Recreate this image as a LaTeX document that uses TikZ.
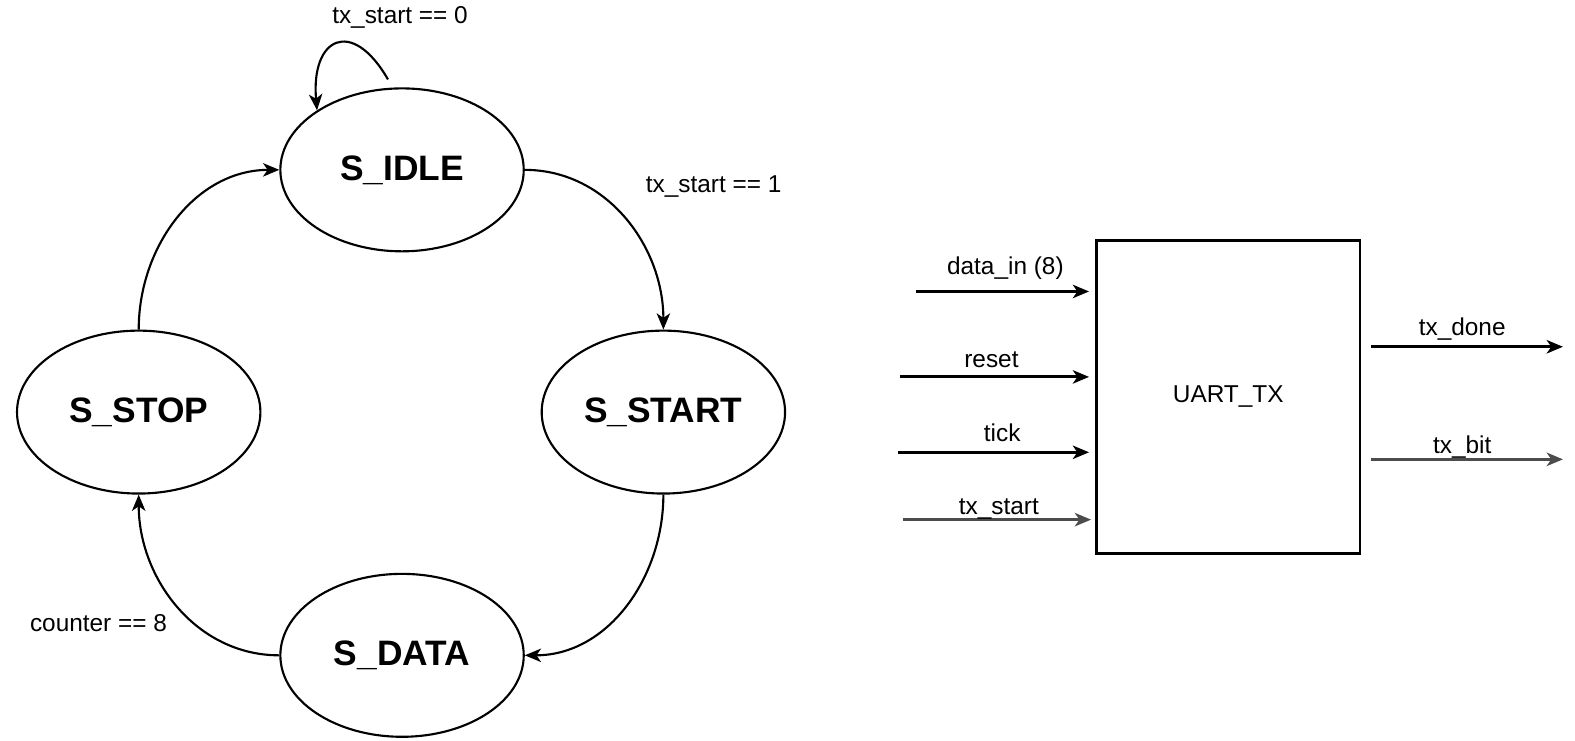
\documentclass[tikz,border=0pt]{standalone}
\usepackage{fontspec}
\setmainfont{Liberation Sans}
\usetikzlibrary{arrows, arrows.meta, automata, positioning, shapes.geometric}

\begin{document}
\begin{tikzpicture}[x=0.01cm, y=-0.01cm]
			\tikzset {->, >={Stealth[length=4.6pt, width=3.8pt, inset=1.3pt]}, every state/.style={ellipse, semithick, fill=none, inner sep=1pt, minimum width=2.42cm, minimum height=1.62cm, font=\fontsize{10}{12}\selectfont\bfseries}, cond/.style={font=\fontsize{6.9}{8}\selectfont}, port/.style={font=\fontsize{6.9}{8}\selectfont, anchor=base} }
			\useasboundingbox (0,0) rectangle (1567,737);

			% state machine
			\node[state] (idle) at (400,169) {S\_IDLE};
			\node[state] (start) at (660,410) {S\_START};
			\node[state] (stop) at (138,410) {S\_STOP};
			\node[state] (data) at (400,652) {S\_DATA};
			\coordinate (loopin) at (386,79);

			\node[cond] (c0) at (398,17) {tx\_start == 0};
			\node[cond] (c1) at (710,186) {tx\_start == 1};
			\node[cond] (c8) at (98,620) {counter == 8};

			\path[semithick]
				(loopin) edge[out=120, in=95, looseness=2.4] (idle.145)
				(idle) edge[out=0, in=90] (start)
				(start) edge[out=-90, in=0] (data)
				(data) edge[out=180, in=-90] (stop)
				(stop) edge[out=90, in=180] (idle);

			% block
			\node[draw, thick, font=\fontsize{6.9}{8}\selectfont, minimum width=2.62cm, minimum height=3.12cm] (uart) at (1222,395) {UART\_TX};

			\coordinate (din) at (911,290);
			\coordinate (rst) at (895,375);
			\coordinate (tck) at (893,450);
			\coordinate (txs) at (898,517);
			\coordinate (done) at (1555,345);
			\coordinate (bit) at (1555,457);

			\draw[thick, shorten >=0.06cm] (din) -- (din -| uart.west) node[port, midway, yshift=0.17cm] (ldin) {data\_in (8)};
			\draw[thick, shorten >=0.06cm] (rst) -- (rst -| uart.west) node[port, pos=0.47, yshift=0.09cm] (lrst) {reset};
			\draw[thick, shorten >=0.06cm] (tck) -- (tck -| uart.west) node[port, pos=0.53, yshift=0.11cm] (ltck) {tick};
			\draw[thick, black!70, shorten >=0.04cm] (txs) -- (txs -| uart.west) node[port, black, midway, yshift=0.05cm] (ltxs) {tx\_start};
			\draw[thick, shorten <=0.1cm] (done -| uart.east) -- (done) node[port, midway, yshift=0.11cm] (ldone) {tx\_done};
			\draw[thick, black!70, shorten <=0.1cm] (bit -| uart.east) -- (bit) node[port, black, midway, yshift=0.06cm] (lbit) {tx\_bit};
		\end{tikzpicture}
\end{document}
